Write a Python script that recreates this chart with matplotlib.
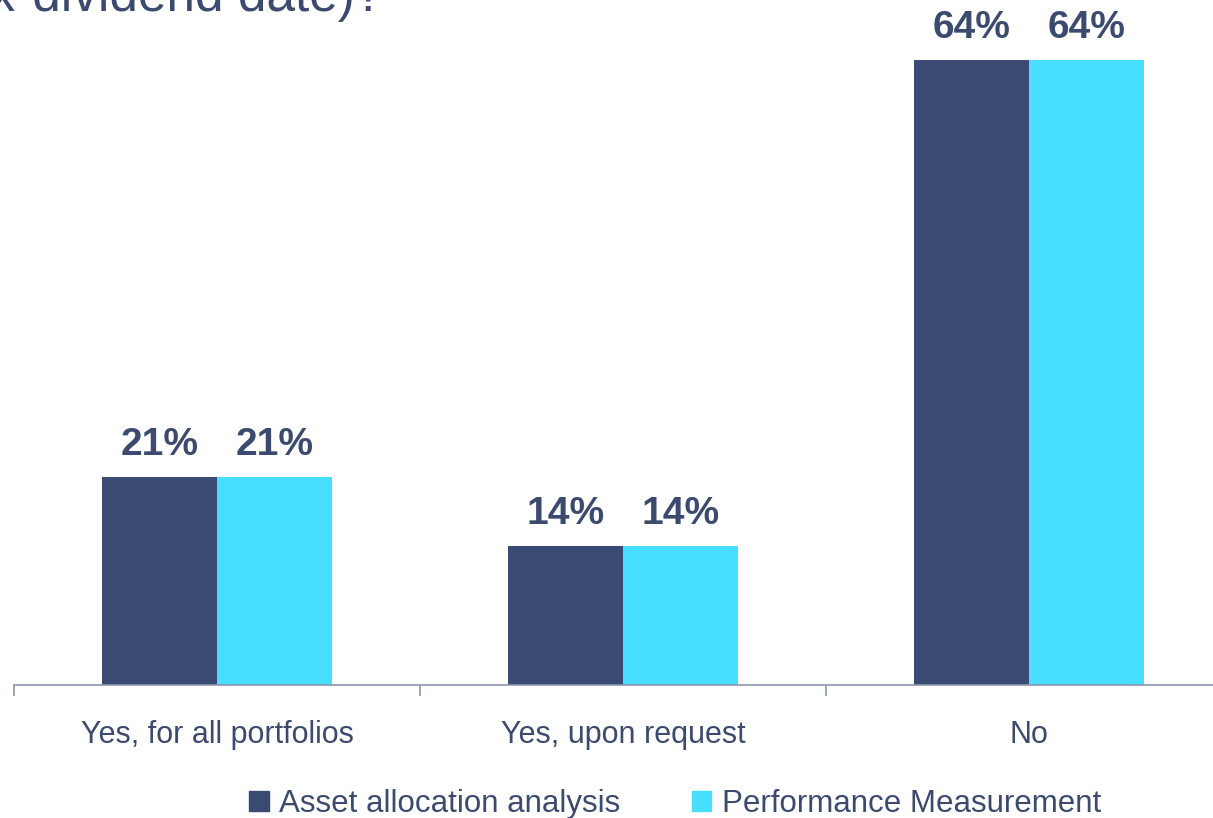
import matplotlib.pyplot as plt
from matplotlib.patches import Patch

plt.rcParams["font.family"] = ["Liberation Sans", "DejaVu Sans"]

# Data
categories = ["Yes, for all portfolios", "Yes, upon request", "No"]
series_names = ["Asset allocation analysis", "Performance Measurement"]
asset_allocation = [21.4, 14.3, 64.3]
performance = [21.4, 14.3, 64.3]

# Colours
dark = "#3A4A72"
cyan = "#48DEFF"
text_col = "#3B4A6E"
axis_col = "#8C96B0"

W, H = 1213, 818
fig = plt.figure(figsize=(W / 100, H / 100), dpi=100)

# cropped title from the slide (cut off at the top, like the source)
fig.text(383 / W, 1 - 11 / H, "(ex-dividend date)?", ha="right",
         va="baseline", fontsize=37, color=text_col)

ax = fig.add_axes([14 / W, 1 - 685 / H, 1218 / W, 680 / H])

x = list(range(len(categories)))
bw = 0.284
off = bw / 2

bars1 = ax.bar([i - off for i in x], asset_allocation, width=bw,
               color=dark, linewidth=0)
bars2 = ax.bar([i + off for i in x], performance, width=bw,
               color=cyan, linewidth=0)

for bars in (bars1, bars2):
    for b in bars:
        ax.annotate(
            f"{b.get_height():.0f}%",
            (b.get_x() + b.get_width() / 2, b.get_height()),
            xytext=(0, 16), textcoords="offset points",
            ha="center", va="baseline",
            fontsize=28, fontweight="bold", color=text_col
        )

ax.set_xlim(-0.5, 2.5)
ax.set_ylim(0, 70)

ax.set_xticks(x)
ax.set_xticklabels(categories, fontsize=22, color=text_col)
ax.set_xticks([-0.5, 0.5, 1.5, 2.5], minor=True)
ax.tick_params(axis="x", which="major", length=0, pad=25.5)
ax.tick_params(axis="x", which="minor", length=8, width=1.2, color=axis_col)
ax.set_yticks([])

for s in ["top", "right", "left"]:
    ax.spines[s].set_visible(False)
ax.spines["bottom"].set_color(axis_col)
ax.spines["bottom"].set_linewidth(1.2)

handles = [Patch(color=dark), Patch(color=cyan)]
fig.legend(
    handles, series_names,
    loc="center", bbox_to_anchor=(675 / W, 1 - 804 / H),
    ncol=2, frameon=False, fontsize=22.5,
    handlelength=0.62, handleheight=0.65,
    handletextpad=0.33, columnspacing=2.3,
    borderpad=0, labelcolor=text_col
)

fig.savefig("out.png", dpi=100)
